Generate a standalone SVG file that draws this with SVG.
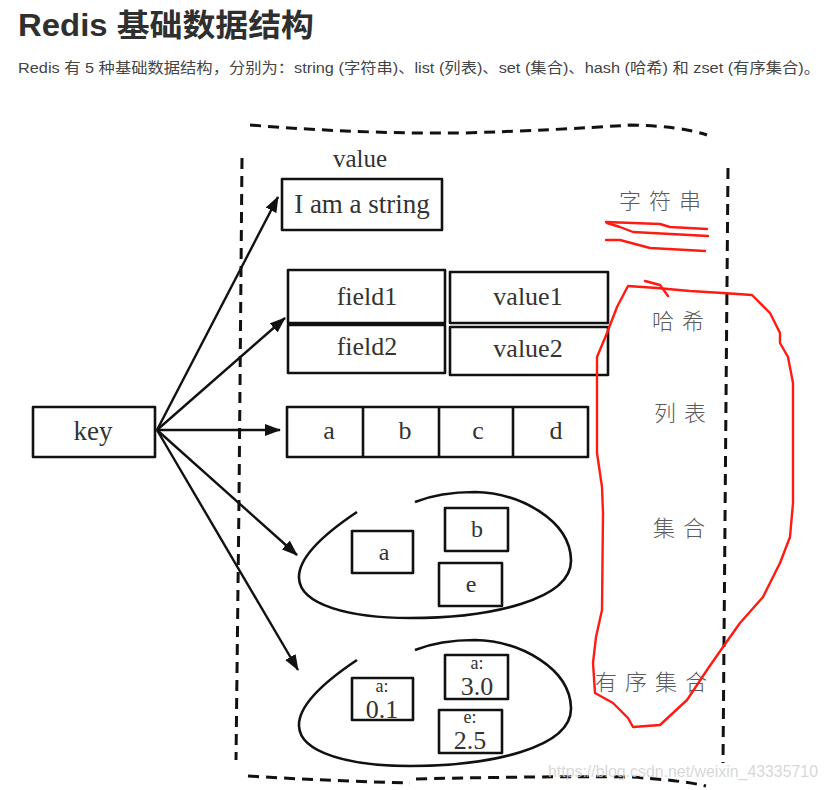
<svg xmlns="http://www.w3.org/2000/svg" width="830" height="790" viewBox="0 0 830 790">
<style>
.title{font-family:"Liberation Sans","Noto Sans CJK SC",sans-serif;font-weight:bold;font-size:31px;fill:#2f2f2f}
.sub{font-family:"Liberation Sans","Noto Sans CJK SC",sans-serif;font-size:14.5px;fill:#444}
.box{fill:none;stroke:#111;stroke-width:2.6;stroke-linejoin:round}
.hand{font-family:"Liberation Serif",serif;fill:#333;text-anchor:middle}
.cn{font-family:"Noto Sans CJK SC",sans-serif;font-size:22px;fill:#5a5a5a;letter-spacing:8px;font-weight:300}
.dash{fill:none;stroke:#111;stroke-width:3;stroke-dasharray:11 7}
.conn{fill:none;stroke:#111;stroke-width:2.4}
.red{fill:none;stroke:#ff1a12;stroke-width:2.4;stroke-linejoin:round;stroke-linecap:round}
.wm{font-family:"Liberation Sans",sans-serif;font-size:17px;fill:#d0d0d0;fill-opacity:0.85}
</style>
<defs>
<marker id="ah" markerUnits="userSpaceOnUse" markerWidth="16" markerHeight="12" refX="15" refY="6" orient="auto">
<path d="M0,0 L16,6 L0,12 z" fill="#111"/>
</marker>
</defs>
<rect width="830" height="790" fill="#fff"/>
<text class="title" x="18" y="36" textLength="296" lengthAdjust="spacingAndGlyphs">Redis 基础数据结构</text>
<text class="sub" x="18" y="73" textLength="802" lengthAdjust="spacingAndGlyphs">Redis 有 5 种基础数据结构，分别为：string (字符串)、list (列表)、set (集合)、hash (哈希) 和 zset (有序集合)。</text>

<g id="frame">
<path class="dash" d="M250,125 Q360,134 463,133 Q560,130 630,125 Q680,126 707,135"/>
<path class="dash" d="M728,168 L726,400 L723,763"/>
<path class="dash" d="M242,158 L239,500 L236,760"/>
<path class="dash" d="M248,776 Q330,781 410,783"/>
<path class="dash" d="M416,779 Q540,776 630,777 Q680,780 706,786"/>
</g>

<g id="key">
<rect class="box" x="33" y="407" width="122" height="50"/>
<text class="hand" x="93" y="440" font-size="27">key</text>
</g>

<g id="string">
<text class="hand" x="360" y="167" font-size="25">value</text>
<rect class="box" x="282" y="179" width="160" height="51"/>
<text class="hand" x="362" y="213" font-size="27">I am a string</text>
</g>

<g id="hash">
<rect class="box" x="288" y="270" width="157" height="53"/>
<rect class="box" x="450" y="272" width="158" height="51"/>
<rect class="box" x="288" y="325" width="157" height="48"/>
<rect class="box" x="450" y="327" width="158" height="48"/>
<text class="hand" x="367" y="305" font-size="26">field1</text>
<text class="hand" x="528" y="305" font-size="26">value1</text>
<text class="hand" x="367" y="355" font-size="26">field2</text>
<text class="hand" x="528" y="357" font-size="26">value2</text>
</g>

<g id="list">
<rect class="box" x="287" y="407" width="301" height="50"/>
<line class="box" x1="363" y1="407" x2="363" y2="457"/>
<line class="box" x1="439" y1="407" x2="439" y2="457"/>
<line class="box" x1="513" y1="407" x2="513" y2="457"/>
<text class="hand" x="329" y="439" font-size="26">a</text>
<text class="hand" x="405" y="439" font-size="26">b</text>
<text class="hand" x="478" y="439" font-size="26">c</text>
<text class="hand" x="556" y="439" font-size="26">d</text>
</g>

<g id="set">
<path class="box" d="M357,512 C330,530 298,555 299,578 C300,605 350,618 410,618 C490,618 572,600 571,560 C570,520 520,493 475,492 C450,492 430,496 415,502"/>
<rect class="box" x="352" y="531" width="61" height="42"/>
<rect class="box" x="445" y="508" width="63" height="43"/>
<rect class="box" x="439" y="563" width="63" height="43"/>
<text class="hand" x="384" y="560" font-size="24">a</text>
<text class="hand" x="477" y="537" font-size="24">b</text>
<text class="hand" x="471" y="592" font-size="24">e</text>
</g>

<g id="zset">
<path class="box" d="M357,660 C330,678 298,703 299,726 C300,753 350,766 410,766 C490,766 572,748 571,708 C570,668 520,641 475,640 C450,640 430,644 415,650"/>
<rect class="box" x="352" y="678" width="61" height="42"/>
<rect class="box" x="445" y="655" width="63" height="44"/>
<rect class="box" x="439" y="710" width="63" height="43"/>
<text class="hand" x="382" y="692" font-size="18">a:</text>
<text class="hand" x="382" y="718" font-size="26">0.1</text>
<text class="hand" x="477" y="669" font-size="18">a:</text>
<text class="hand" x="477" y="695" font-size="26">3.0</text>
<text class="hand" x="470" y="723" font-size="18">e:</text>
<text class="hand" x="470" y="749" font-size="26">2.5</text>
</g>

<g id="connectors">
<line class="conn" x1="157" y1="430" x2="278" y2="197" marker-end="url(#ah)"/>
<line class="conn" x1="157" y1="430" x2="285" y2="318" marker-end="url(#ah)"/>
<line class="conn" x1="157" y1="430" x2="280" y2="430" marker-end="url(#ah)"/>
<line class="conn" x1="157" y1="430" x2="297" y2="555" marker-end="url(#ah)"/>
<line class="conn" x1="157" y1="430" x2="298" y2="670" marker-end="url(#ah)"/>
</g>

<g id="labels">
<text class="cn" x="619" y="209">字符串</text>
<text class="cn" x="652" y="329">哈希</text>
<text class="cn" x="654" y="421">列表</text>
<text class="cn" x="653" y="536">集合</text>
<text class="cn" x="595" y="690">有序集合</text>
</g>

<g id="annotations">
<path class="red" d="M606,222 L660,224 L670,227 L707,229"/>
<path class="red" d="M607,223 L620,227 L633,232 L708,236"/>
<path class="red" d="M606,240 L620,240 L650,248 L705,251"/>
<path class="red" d="M645,281 L660,285 L668,296"/>
<path class="red" d="M628,286 L657,288 L690,291 L723,293 L752,295 L770,313 L780,333 L780,343 L788,357 L793,383 L793,503 L790,537 L780,563 L763,597 L740,623 L723,647 L707,670 L687,700 L660,725 L633,727 L628,718 L613,703 L595,693 L593,663 L596,637 L602,610 L603,513 L602,487 L597,453 L597,357 L607,333 L617,307 Z"/>
</g>

<text class="wm" x="548" y="777" textLength="270" lengthAdjust="spacingAndGlyphs">https://blog.csdn.net/weixin_43335710</text>
</svg>
